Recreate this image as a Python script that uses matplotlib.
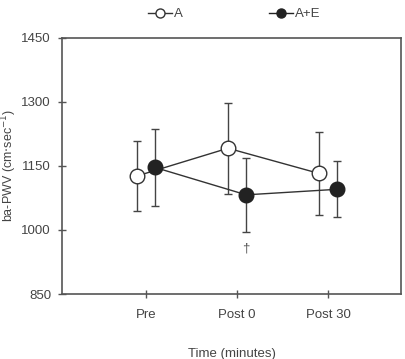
import numpy as np
import matplotlib.pyplot as plt
from matplotlib.lines import Line2D

plt.rcParams['font.family'] = ['Liberation Sans', 'DejaVu Sans']

# Data
times = ['Pre', 'Post 0', 'Post 30']
a_mean = np.array([1126, 1191, 1132])
a_sd = np.array([81, 106, 98])
ae_mean = np.array([1146, 1082, 1095])
ae_sd = np.array([89, 87, 65])

grey = '#555555'
x = np.arange(1, len(times) + 1)
off = 0.1

fig = plt.figure(figsize=(4.06, 3.59), dpi=100)
ax = fig.add_axes([0.153, 0.181, 0.835, 0.7145])

ax.plot(x - off, a_mean, color='#333333', lw=1, zorder=2)
ax.plot(x + off, ae_mean, color='#333333', lw=1, zorder=2)
ax.errorbar(x - off, a_mean, yerr=a_sd, fmt='none', ecolor='#444444',
            elinewidth=1, capsize=3, capthick=1, zorder=1)
ax.errorbar(x + off, ae_mean, yerr=ae_sd, fmt='none', ecolor='#444444',
            elinewidth=1, capsize=3, capthick=1, zorder=1)
ax.plot(x - off, a_mean, 'o', ms=10.5, mfc='white', mec='#333333', mew=1, zorder=3)
ax.plot(x + off, ae_mean, 'o', ms=10.5, mfc='#222222', mec='#222222', mew=1, zorder=4)

ax.text(2 + off, ae_mean[1] - ae_sd[1] - 25, '\u2020', ha='center', va='top',
        fontsize=9.5, color='#555555')

ax.set_xlim(0.08, 3.8)
ax.set_ylim(850, 1450)
ax.set_yticks([850, 1000, 1150, 1300, 1450])
ax.set_xticks(x)
ax.set_xticklabels(times)
for s in ax.spines.values():
    s.set_color(grey)
    s.set_linewidth(1.2)
ax.tick_params(axis='both', direction='inout', length=6, width=1, color=grey,
               labelsize=9.5, labelcolor='#444444')
ax.tick_params(axis='y', pad=5)
ax.tick_params(axis='x', pad=8)

ax.set_ylabel('ba-PWV (cm$\\cdot$sec$^{-1}$)', fontsize=9, color='#444444', va='center')
ax.yaxis.set_label_coords(-0.156, 0.5)
ax.set_xlabel('Time (minutes)', fontsize=9.5, color='#444444', labelpad=19)

h1 = Line2D([], [], color='#333333', lw=1, marker='o', ms=6.5, mfc='white', mec='#333333')
h2 = Line2D([], [], color='#222222', lw=1, marker='o', ms=6.5, mfc='#222222', mec='#222222')
fig.legend([h1, h2], ['A', 'A+E'], loc='center', bbox_to_anchor=(0.577, 0.96),
           ncol=2, frameon=False, fontsize=9.5, handlelength=1.8, handletextpad=0.2,
           columnspacing=6.5, labelcolor='#444444')

fig.savefig('out.png', dpi=100)
